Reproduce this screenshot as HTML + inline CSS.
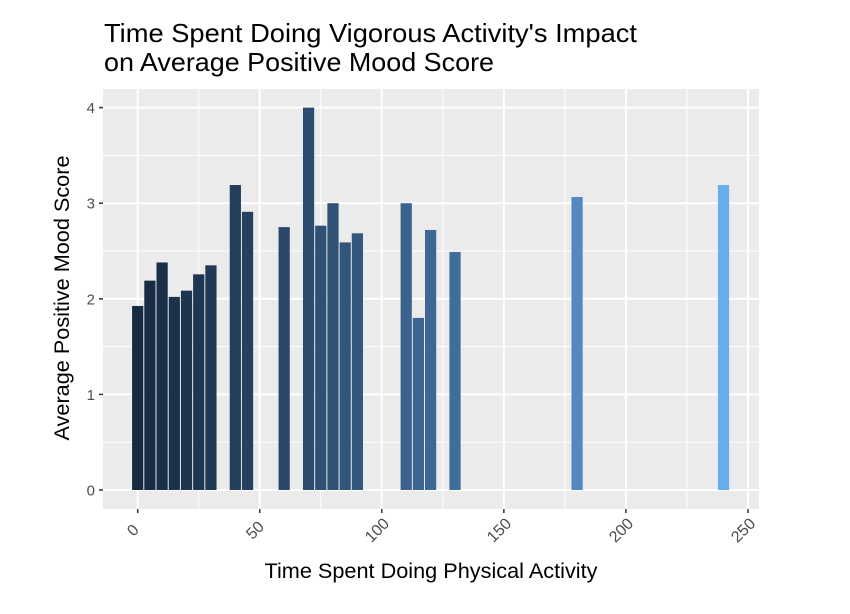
<!DOCTYPE html>
<html><head><meta charset="utf-8"><style>
body{margin:0;background:#fff;}
svg{display:block;font-family:"Liberation Sans",sans-serif;}
</style></head><body>
<svg id="chart" width="850" height="614" viewBox="0 0 850 614" xmlns="http://www.w3.org/2000/svg">
<rect width="850" height="614" fill="#fff"/>
<text x="104" y="42" font-size="26" textLength="533" lengthAdjust="spacingAndGlyphs" fill="#000">Time Spent Doing Vigorous Activity's Impact</text>
<text x="104" y="71" font-size="26" textLength="390" lengthAdjust="spacingAndGlyphs" fill="#000">on Average Positive Mood Score</text>
<rect x="103" y="89" width="656" height="420" fill="#EBEBEB"/>
<g id="grid"></g>
<g id="bars"></g>
<g id="axes"></g>
<text x="431" y="578" font-size="21" textLength="333" lengthAdjust="spacingAndGlyphs" text-anchor="middle" fill="#000">Time Spent Doing Physical Activity</text>
<text transform="translate(69,298) rotate(-90)" font-size="21" textLength="285" lengthAdjust="spacingAndGlyphs" text-anchor="middle" fill="#000">Average Positive Mood Score</text>
</svg>
<script>
const categories=[0,5,10,15,20,25,30,40,45,60,70,75,80,85,90,110,115,120,130,180,240];
const values=[1.925,2.19,2.38,2.02,2.085,2.256,2.35,3.19,2.91,2.75,4.0,2.765,3.0,2.59,2.685,3.0,1.80,2.72,2.49,3.065,3.19];
const xTicks=[0,50,100,150,200,250];
const yTicks=[0,1,2,3,4];
const NS="http://www.w3.org/2000/svg";
const X0=137.7,XS=2.441,Y0=490,YS=95.6;
function xs(v){return X0+v*XS;}
function ys(v){return Y0-v*YS;}
function mk(t,a,p){const e=document.createElementNS(NS,t);for(const k in a)e.setAttribute(k,a[k]);p.appendChild(e);return e;}
function toLin(c){c/=255;return c<=0.04045?c/12.92:Math.pow((c+0.055)/1.055,2.4);}
function fromLin(c){c=c<=0.0031308?12.92*c:1.055*Math.pow(c,1/2.4)-0.055;return Math.max(0,Math.min(255,Math.round(c*255)));}
function f(t){return t>0.008856?Math.cbrt(t):7.787*t+16/116;}
function fi(t){return t>0.206893?t*t*t:(t-16/116)/7.787;}
function toLab(rgb){const [r,g,b]=rgb.map(toLin);
const X=(0.4124*r+0.3576*g+0.1805*b)/0.95047,Y=0.2126*r+0.7152*g+0.0722*b,Z=(0.0193*r+0.1192*g+0.9505*b)/1.08883;
return [116*f(Y)-16,500*(f(X)-f(Y)),200*(f(Y)-f(Z))];}
function fromLab(l){const fy=(l[0]+16)/116,fx=fy+l[1]/500,fz=fy-l[2]/200;
const X=fi(fx)*0.95047,Y=fi(fy),Z=fi(fz)*1.08883;
const r=3.2406*X-1.5372*Y-0.4986*Z,g=-0.9689*X+1.8758*Y+0.0415*Z,b=0.0557*X-0.2040*Y+1.0570*Z;
return 'rgb('+[r,g,b].map(fromLin).join(',')+')';}
const LA=toLab([0x18,0x2A,0x42]),LB=toLab([0x68,0xAD,0xED]);
function col(v){const t=v/240;return fromLab(LA.map((c,i)=>c+(LB[i]-c)*t));}
const grid=document.getElementById('grid'),bars=document.getElementById('bars'),axes=document.getElementById('axes');
for(let v=-25;v<=275;v+=25){const x=xs(v);if(x<103||x>759)continue;const major=v%50===0;
const l=mk('line',{x1:x,x2:x,y1:89,y2:509,stroke:'#fff','stroke-width':major?2:1},grid);

}
for(let v=-0.5;v<=4.5;v+=0.5){const y=ys(v);if(y<89||y>509)continue;const major=Math.abs(v%1)<1e-9;
const l=mk('line',{x1:103,x2:759,y1:y,y2:y,stroke:'#fff','stroke-width':major?2:1},grid);

}
categories.forEach((c,i)=>{const w=4.6*XS;const r=mk('rect',{x:xs(c)-w/2,y:ys(values[i]),width:w,height:ys(0)-ys(values[i]),fill:col(c)},bars);

});
xTicks.forEach(t=>{const x=xs(t);
const l=mk('line',{x1:x,x2:x,y1:509,y2:513,stroke:'#333','stroke-width':1.5},axes);


const tx=mk('text',{transform:'translate('+(x-4)+',531) rotate(-45)','font-size':16,fill:'#4D4D4D','text-anchor':'middle','dominant-baseline':'middle'},axes);
tx.textContent=t;

});
yTicks.forEach(t=>{const y=ys(t);
const l=mk('line',{x1:99,x2:103,y1:y,y2:y,stroke:'#333','stroke-width':1.5},axes);


const tx=mk('text',{x:95,y:y+5.5,'font-size':15,fill:'#4D4D4D','text-anchor':'end'},axes);
tx.textContent=t;

});
</script>
</body></html>
